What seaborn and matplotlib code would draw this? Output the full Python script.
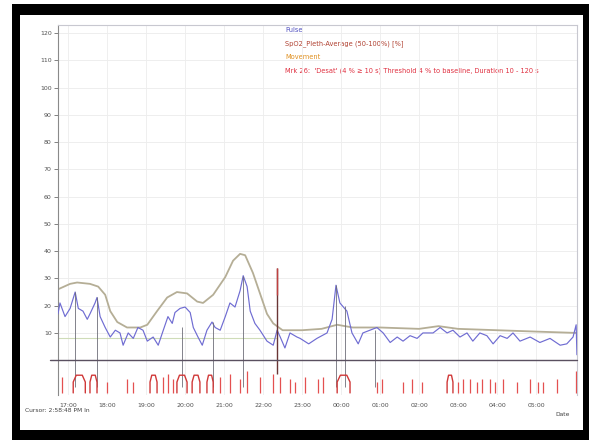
#!/usr/bin/env python
# encoding: utf-8

import numpy as np
import matplotlib
matplotlib.use("Agg")
import matplotlib.pyplot as plt
from matplotlib.patches import Rectangle
import seaborn as sns


# hours after 17:00
HOUR_LABELS = ["17:00", "18:00", "19:00", "20:00", "21:00", "22:00", "23:00",
               "00:00", "01:00", "02:00", "03:00", "04:00", "05:00"]

PULSE_T = [-0.26, -0.21, -0.08, 0.05, 0.18, 0.26, 0.38, 0.49, 0.56, 0.69, 0.74,
           0.82, 0.95, 1.08, 1.21, 1.33, 1.41, 1.54, 1.67, 1.79, 1.92, 2.03,
           2.18, 2.31, 2.44, 2.56, 2.67, 2.74, 2.87, 3.00, 3.13, 3.21, 3.33,
           3.44, 3.56, 3.69, 3.77, 3.90, 4.03, 4.15, 4.28, 4.41, 4.49, 4.59,
           4.67, 4.79, 4.92, 5.10, 5.26, 5.36, 5.44, 5.56, 5.69, 5.87, 5.95,
           6.17, 6.38, 6.64, 6.77, 6.87, 6.97, 7.15, 7.28, 7.44, 7.56, 7.74, 7.92,
           8.08, 8.26, 8.44, 8.59, 8.77, 8.95, 9.10, 9.36, 9.54, 9.72, 9.87,
           10.05, 10.23, 10.38, 10.56, 10.74, 10.90, 11.08, 11.26, 11.41,
           11.59, 11.85, 12.10, 12.36, 12.62, 12.79, 12.95, 13.03, 13.05]
PULSE_V = [17, 21, 16, 19, 25, 19, 18, 15, 17, 21, 23,
           16, 12, 8.5, 11, 10, 5.5, 10, 8, 12, 11, 7,
           8.5, 5.5, 11, 16, 13.5, 17.5, 19, 19.5, 17.5, 12, 8.5,
           5.5, 11, 14, 12, 11, 16, 21, 19.5, 25.5, 31, 27,
           18, 13.5, 11, 7, 5.5, 11, 8.5, 4.5, 10, 8.5, 8,
           6, 8, 10, 15, 27.5, 21, 18, 10, 6, 10, 11, 12,
           10, 6.5, 8.5, 7, 9, 8, 10, 10, 12, 10, 11,
           8.5, 10, 7, 10, 9, 6, 9, 8, 10,
           7, 8.5, 6.5, 8, 5.5, 6, 8.5, 13, 2]

TREND_T = [-0.26, 0.05, 0.23, 0.56, 0.77, 0.95, 1.08, 1.26, 1.51, 1.85, 2.03,
           2.28, 2.54, 2.79, 3.05, 3.31, 3.46, 3.72, 4.03, 4.23, 4.41, 4.54,
           4.74, 4.92, 5.10, 5.26, 5.50, 6.00, 6.50, 6.90, 7.30, 8.00, 9.00,
           9.50, 10.00, 11.00, 12.00, 13.05]
TREND_V = [26, 28, 28.5, 28, 27, 24, 18, 14, 12, 12, 13,
           18, 23, 25, 24.5, 21.5, 21, 24, 30.5, 36.5, 39, 38.5,
           32, 24.5, 17, 13.5, 11, 11, 11.5, 13, 12, 12, 11.5,
           12.5, 11.5, 11, 10.5, 10]

# artefact spike
SPIKE_T = 5.36
SPIKE_TOP = 34

# cursor / marker lines: time and top value
MARK_T = [0.18, 0.74, 2.92, 3.72, 4.49, 6.87, 7.10, 7.87]
MARK_TOP = [25, 23, 12, 14, 31, 27.5, 20, 11]

# event ticks under the baseline
EVENT_T = [-0.15, 1.00, 1.51, 1.67, 2.44, 2.56, 2.69, 3.90, 4.15, 4.41,
           4.59, 4.92, 5.26, 5.44, 5.69, 5.82, 6.08, 6.41, 6.54, 7.92,
           8.05, 8.59, 8.82, 9.08, 10.00, 10.13, 10.31, 10.49, 10.62,
           10.82, 10.95, 11.15, 11.51, 11.85, 12.05, 12.18, 12.54, 13.03]
EVENT_TOP = [-6, -8, -7, -8, -6, -5, -7, -6, -5, -7,
             -4, -6, -5, -6, -7, -8, -6, -7, -6, -8,
             -7, -8, -7, -8, -8, -7, -7, -8, -7,
             -7, -8, -7, -8, -7, -8, -8, -7, -4]
HUMP_START = [0.13, 0.56, 2.10, 2.79, 3.18, 3.56, 6.90, 9.72]
HUMP_END = [0.44, 0.74, 2.28, 3.05, 3.38, 3.72, 7.23, 9.87]

TOP_TEXT = [("Pulse", "#5050c0"),
            ("SpO2_Pleth-Average (50-100%) [%]", "#b04030"),
            ("Movement", "#e09020"),
            ("Mrk 26:  'Desat' (4 % \u2265 10 s) Threshold 4 % to baseline, Duration 10 - 120 s", "#e03040")]


def main():
    sns.set_theme(style="white")
    plt.rcParams['font.family'] = ['DejaVu Sans']

    fig = plt.figure(figsize=(5.89, 4.40), dpi=100)
    # window frame: black border with a white panel inside
    fig.patches.append(Rectangle((0.0204, 0), 0.9796, 0.991, transform=fig.transFigure,
                                 facecolor="black", edgecolor="none", zorder=-20))
    fig.patches.append(Rectangle((0.034, 0.0227), 0.956, 0.943, transform=fig.transFigure,
                                 facecolor="white", edgecolor="none", zorder=-10))

    ax = fig.add_axes([0.0985, 0.102, 0.881, 0.841])
    ax.set_facecolor("none")
    ax.set_zorder(5)

    # grid
    for v in range(10, 130, 10):
        ax.axhline(v, color="#ebebeb", lw=0.6, zorder=0)
    for h in range(len(HOUR_LABELS)):
        ax.axvline(h, color="#ededed", lw=0.6, zorder=0)
    ax.axhline(8, xmax=0.42, color="#cfdcb8", lw=0.8, zorder=1)

    sns.lineplot(x=TREND_T, y=TREND_V, ax=ax, color="#b5ae96", lw=1.3,
                 estimator=None, sort=False, zorder=2)
    sns.lineplot(x=PULSE_T, y=PULSE_V, ax=ax, color="#6f6cd2", lw=0.85,
                 estimator=None, sort=False, zorder=3)

    ax.vlines(MARK_T, -10, MARK_TOP, color="#6e6e78", lw=0.6, zorder=4)
    ax.vlines(SPIKE_T, -5, SPIKE_TOP, color="#6a3535", lw=1.0, zorder=4)
    ax.vlines(SPIKE_T, 24, SPIKE_TOP, color="#c04040", lw=1.0, zorder=4)

    ax.axhline(0, xmin=-0.015, color="#5a5060", lw=1.0, clip_on=False, zorder=5)

    ax.vlines(EVENT_T, -12, EVENT_TOP, color="#e45050", lw=0.9, zorder=4)
    # rounded humps for event clusters
    for a, b in zip(HUMP_START, HUMP_END):
        w = b - a
        ax.plot([a, a, a + w * 0.25, b - w * 0.25, b, b],
                [-12, -8, -5.5, -5.5, -8, -12], color="#d03838", lw=1.0, zorder=4)

    ax.set_xlim(-0.26, 13.05)
    ax.set_ylim(-12.8, 122.9)
    ax.set_yticks(range(10, 130, 10))
    ax.set_yticklabels([str(v) for v in range(10, 130, 10)])
    ax.set_xticks(range(len(HOUR_LABELS)))
    ax.set_xticklabels(HOUR_LABELS)
    ax.tick_params(axis="y", labelsize=4.5, colors="#505050", length=3, width=0.5,
                   left=True, pad=1.5)
    ax.tick_params(axis="x", labelsize=4.5, colors="#505050", length=0, pad=6)
    ax.set_xlabel("")
    ax.set_ylabel("")

    ax.spines["bottom"].set_visible(False)
    ax.spines["left"].set_color("#8a8a8a")
    ax.spines["left"].set_linewidth(0.8)
    for s in ("top", "right"):
        ax.spines[s].set_color("#c8c8d0")
        ax.spines[s].set_linewidth(0.8)

    for i, (txt, col) in enumerate(TOP_TEXT):
        fig.text(0.484, 0.932 - i * 0.031, txt, color=col, fontsize=4.8, va="center")

    fig.text(0.043, 0.068, "Cursor: 2:58:48 PM ln", color="#404040", fontsize=4.3, va="center")
    fig.text(0.968, 0.058, "Date", color="#404040", fontsize=4.3, va="center", ha="right")

    fig.savefig("out.png", dpi=100)


if __name__ == '__main__':
    main()
